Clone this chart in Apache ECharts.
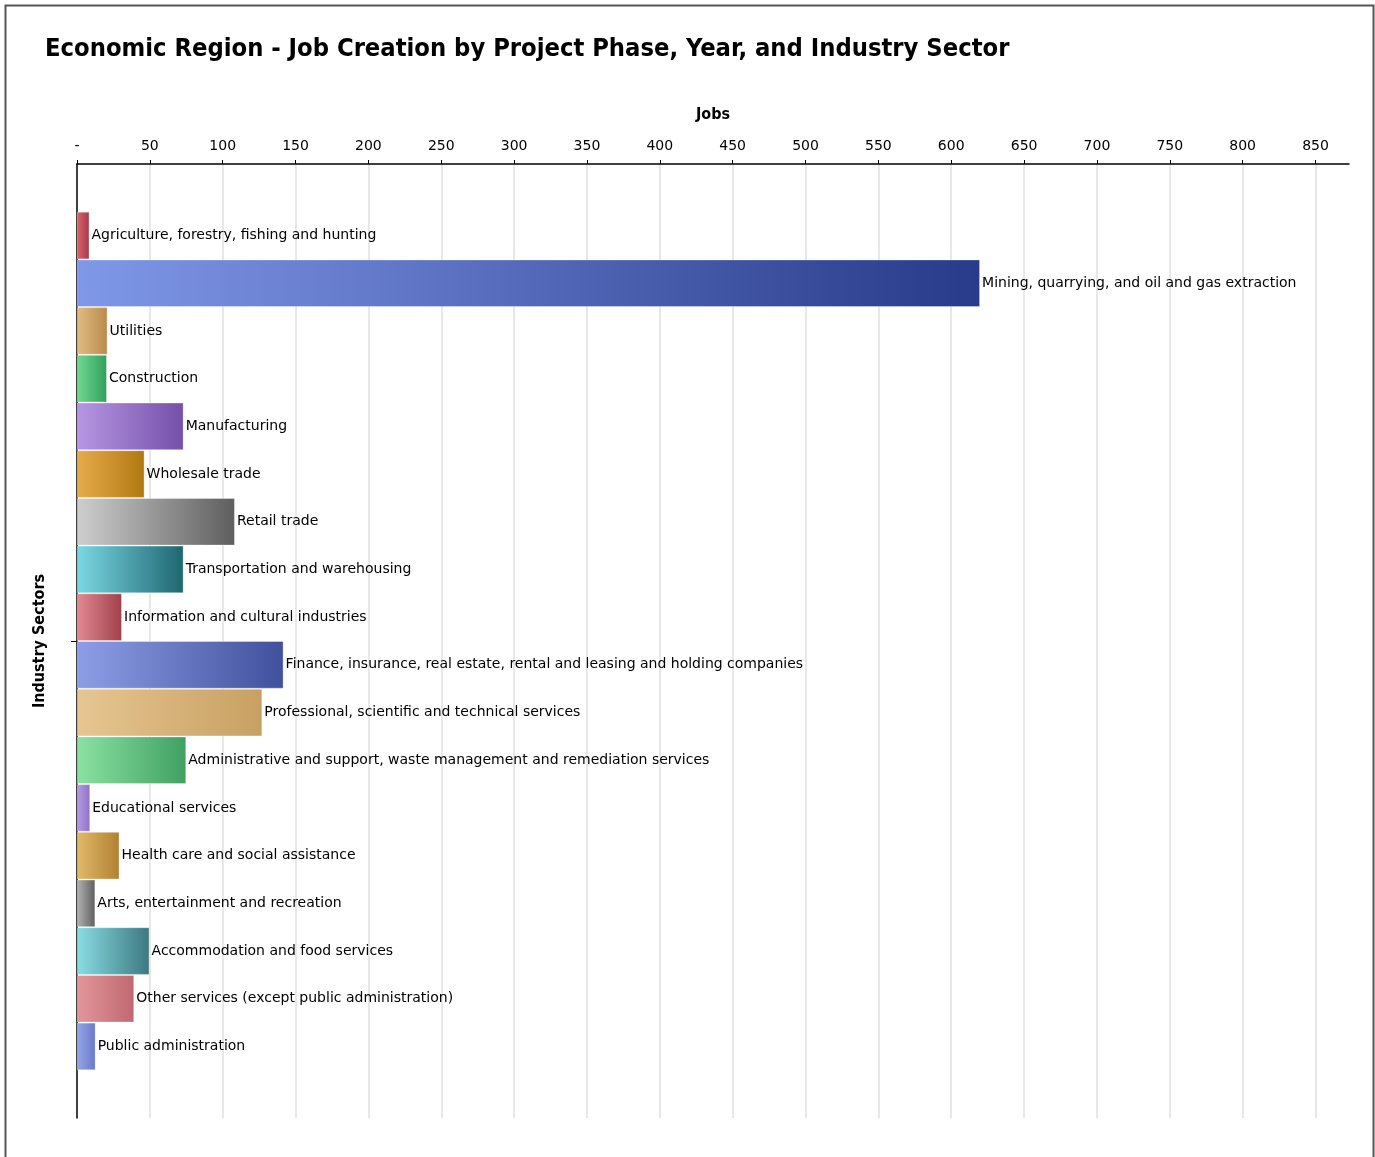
<!DOCTYPE html>
<html>
<head>
<meta charset="utf-8">
<script src="https://cdn.jsdelivr.net/npm/echarts@6/dist/echarts.min.js"></script>
<style>
html,body{margin:0;padding:0;background:#fff;}
#chart{width:1375px;height:1157px;}
</style>
</head>
<body>
<div id="chart"></div>
<script>
var titleText = 'Economic Region - Job Creation by Project Phase, Year, and Industry Sector';
var xAxisName = 'Jobs';
var yAxisName = 'Industry Sectors';

var sectors = [
  'Agriculture, forestry, fishing and hunting',
  'Mining, quarrying, and oil and gas extraction',
  'Utilities',
  'Construction',
  'Manufacturing',
  'Wholesale trade',
  'Retail trade',
  'Transportation and warehousing',
  'Information and cultural industries',
  'Finance, insurance, real estate, rental and leasing and holding companies',
  'Professional, scientific and technical services',
  'Administrative and support, waste management and remediation services',
  'Educational services',
  'Health care and social assistance',
  'Arts, entertainment and recreation',
  'Accommodation and food services',
  'Other services (except public administration)',
  'Public administration'
];

var jobs = [8.6, 619.8, 21, 20.6, 73.2, 46.4, 108.4, 73.2, 30.9, 141.8, 127.2, 75, 9.1, 29.2, 12.6, 49.8, 39.3, 12.8];

var axisMax = 873;
var axisInterval = 50;

var colorStart = ['#d8646e','#8098e8','#e2bc84','#72d894','#b696e4','#e6ac4c','#cecece','#7ad8e4',
                  '#e28a92','#8e9ee6','#e6c692','#8ae2a2','#b69ce2','#e2ba6a','#b2b2b2','#8adce4','#e2979b','#96a6e8'];
var colorEnd   = ['#a63846','#283a8a','#b88a4a','#30a05a','#7450a8','#b07810','#5e5e5e','#1e6670',
                  '#a0404a','#40509c','#c8a062','#40a062','#9070c8','#b08032','#5e5e5e','#3c7880','#c06870','#6878c8'];

var labelFont = '"DejaVu Sans", Verdana, sans-serif';
var titleFont = '"DejaVu Sans Condensed", "DejaVu Sans", sans-serif';

var series = sectors.map(function (name, i) {
  return {
    type: 'bar',
    name: name,
    data: [jobs[i]],
    barGap: '0%',
    barCategoryGap: '10%',
    itemStyle: {
      color: new echarts.graphic.LinearGradient(0, 0, 1, 0, [
        { offset: 0, color: colorStart[i] },
        { offset: 1, color: colorEnd[i] }
      ]),
      borderColor: 'rgba(255,255,255,0.35)',
      borderWidth: 1
    },
    label: {
      show: true,
      position: 'right',
      distance: 2,
      formatter: '{a}',
      color: '#000',
      fontFamily: labelFont,
      fontSize: 14
    },
    emphasis: { disabled: true },
    animation: false
  };
});

var chart = echarts.init(document.getElementById('chart'));
chart.setOption({
  animation: false,
  backgroundColor: '#fff',
  title: {
    text: titleText,
    left: 40,
    top: 32,
    textStyle: {
      fontFamily: titleFont,
      fontWeight: 'bold',
      fontSize: 25.3,
      color: '#000'
    }
  },
  graphic: [{
    type: 'rect',
    shape: { x: 5.5, y: 5.5, width: 1368, height: 1170 },
    style: { fill: 'none', stroke: '#555', lineWidth: 2 },
    silent: true
  }],
  grid: { left: 77, right: 26, top: 164, bottom: 39, containLabel: false },
  xAxis: {
    type: 'value',
    position: 'top',
    min: 0,
    max: axisMax,
    interval: axisInterval,
    name: xAxisName,
    nameLocation: 'middle',
    nameGap: 41,
    nameTextStyle: {
      fontFamily: titleFont,
      fontWeight: 'bold', fontSize: 16, color: '#000'
    },
    axisLine: { show: true, lineStyle: { color: '#000', width: 1.5 } },
    axisTick: { show: true, length: 4, lineStyle: { color: '#000' } },
    axisLabel: {
      margin: 11,
      color: '#000',
      fontSize: 14,
      fontFamily: labelFont,
      showMaxLabel: false,
      formatter: function (v) { return v === 0 ? '-' : String(v); }
    },
    splitLine: { show: true, showMinLine: false, showMaxLine: false, lineStyle: { color: '#e0e0e0', width: 1.5 } }
  },
  yAxis: {
    type: 'category',
    data: [''],
    name: yAxisName,
    nameLocation: 'middle',
    nameGap: 29,
    nameTextStyle: {
      fontFamily: titleFont,
      fontWeight: 'bold', fontSize: 16, color: '#000'
    },
    axisLine: { show: true, lineStyle: { color: '#000', width: 1.5 } },
    axisTick: { show: true, alignWithLabel: true, length: 6, lineStyle: { color: '#000' } },
    axisLabel: { show: false },
    splitLine: { show: false }
  },
  series: series
});
</script>
</body>
</html>
